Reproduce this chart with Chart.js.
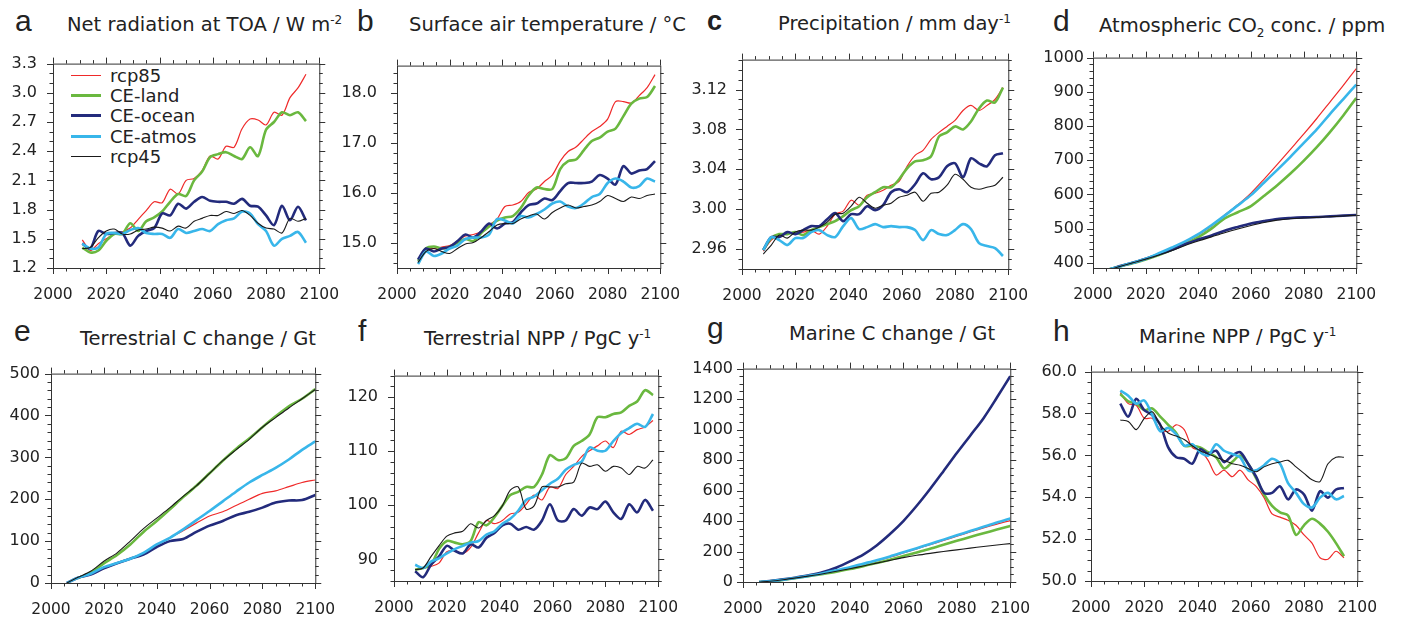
<!DOCTYPE html>
<html>
<head>
<meta charset="utf-8">
<script src="https://cdn.jsdelivr.net/npm/chart.js@4.4.0/dist/chart.umd.min.js"></script>
<style>
    body { margin: 0; background: #fff; width: 1401px; height: 621px; position: relative; overflow: hidden; color: #222; }
    .box { position: absolute; }
    .letter { position: absolute; font-family: "Liberation Sans", Arial, sans-serif; font-size: 30px; line-height: 1; }
    .title { position: absolute; font-family: "DejaVu Sans", sans-serif; font-size: 19.5px; line-height: 1; white-space: nowrap; }
    .title sup, .title sub { font-size: 12px; line-height: 0; }
    .legend { position: absolute; left: 71px; top: 65px; font-family: "DejaVu Sans", sans-serif; font-size: 18px; }
    .legend div { display: flex; align-items: center; height: 20.4px; }
    .legend span.ln { display: inline-block; width: 30px; margin-right: 9px; }
</style>
</head>
<body>

<div class="letter" style="left:15px;top:6px">a</div>
<div class="title" style="left:67px;top:15.3px">Net radiation at TOA / W m<sup>-2</sup></div>
<div class="letter" style="left:357px;top:6px">b</div>
<div class="title" style="left:409px;top:15.3px">Surface air temperature / °C</div>
<div class="letter" style="left:707px;top:8px;font-size:27px;font-weight:bold">c</div>
<div class="title" style="left:778px;top:14.1px">Precipitation / mm day<sup>-1</sup></div>
<div class="letter" style="left:1053px;top:6px">d</div>
<div class="title" style="left:1099px;top:16.3px">Atmospheric CO<sub>2</sub> conc. / ppm</div>
<div class="letter" style="left:14px;top:316px">e</div>
<div class="title" style="left:80px;top:328.6px">Terrestrial C change / Gt</div>
<div class="letter" style="left:358px;top:316px">f</div>
<div class="title" style="left:424px;top:328.6px">Terrestrial NPP / PgC y<sup>-1</sup></div>
<div class="letter" style="left:707px;top:312.6px">g</div>
<div class="title" style="left:789px;top:324.3px">Marine C change / Gt</div>
<div class="letter" style="left:1053px;top:316px">h</div>
<div class="title" style="left:1139px;top:326.6px">Marine NPP / PgC y<sup>-1</sup></div>

<div class="legend" id="legend"></div>

<script>
// series names and styles (same order in every panel)
const seriesNames = ['rcp85', 'CE-land', 'CE-ocean', 'CE-atmos', 'rcp45'];
const seriesColors = ['#ef2a2a', '#6ab83f', '#232b7c', '#38b6ea', '#1a1a1a'];
const seriesWidths = [1.2, 2.6, 2.6, 2.6, 1.1];

const xTicks = [2000, 2020, 2040, 2060, 2080, 2100];

// a: net radiation at TOA
const yearsA = [2011, 2014, 2017, 2020, 2023, 2026, 2029, 2032, 2035, 2038, 2041, 2044, 2047, 2050, 2053,
    2056, 2059, 2062, 2065, 2068, 2071, 2074, 2077, 2080, 2083, 2086, 2089, 2092, 2095];
const rcp85A = [1.49, 1.38, 1.45, 1.50, 1.55, 1.57, 1.61, 1.70, 1.79, 1.88, 1.87, 2.01, 1.96, 2.10, 2.12,
    2.20, 2.35, 2.32, 2.45, 2.44, 2.63, 2.73, 2.72, 2.67, 2.80, 2.77, 2.95, 3.05, 3.19];
const landA = [1.41, 1.36, 1.38, 1.48, 1.55, 1.55, 1.66, 1.58, 1.68, 1.72, 1.78, 1.88, 1.96, 1.94, 2.10,
    2.19, 2.34, 2.37, 2.39, 2.35, 2.32, 2.44, 2.35, 2.62, 2.70, 2.80, 2.77, 2.80, 2.71];
const oceanA = [1.45, 1.40, 1.58, 1.55, 1.56, 1.56, 1.43, 1.53, 1.58, 1.61, 1.76, 1.74, 1.86, 1.81, 1.88,
    1.93, 1.89, 1.88, 1.88, 1.86, 1.91, 1.84, 1.83, 1.74, 1.64, 1.84, 1.69, 1.83, 1.69];
const atmosA = [1.45, 1.40, 1.41, 1.55, 1.56, 1.55, 1.59, 1.61, 1.56, 1.55, 1.55, 1.51, 1.60, 1.56, 1.58,
    1.60, 1.58, 1.65, 1.69, 1.71, 1.78, 1.76, 1.65, 1.58, 1.43, 1.50, 1.53, 1.57, 1.46];
const rcp45A = [1.40, 1.41, 1.51, 1.58, 1.60, 1.55, 1.55, 1.59, 1.60, 1.62, 1.61, 1.58, 1.63, 1.61, 1.68,
    1.71, 1.74, 1.74, 1.78, 1.76, 1.79, 1.74, 1.66, 1.61, 1.60, 1.56, 1.71, 1.68, 1.71];
const yTicksA = [1.2, 1.5, 1.8, 2.1, 2.4, 2.7, 3.0, 3.3];

// b: surface air temperature
const yearsB = [2008, 2011, 2014, 2017, 2020, 2023, 2026, 2029, 2032, 2035, 2038, 2041, 2044, 2047, 2050, 2053,
    2056, 2059, 2062, 2065, 2068, 2071, 2074, 2077, 2080, 2083, 2086, 2089, 2092, 2095, 2098];
const rcp85B = [14.61, 14.89, 14.89, 14.92, 14.95, 15.04, 15.14, 15.17, 15.23, 15.36, 15.48, 15.73, 15.76, 15.83, 16.01, 16.08,
    16.23, 16.36, 16.64, 16.83, 16.92, 17.08, 17.23, 17.33, 17.48, 17.83, 17.83, 17.80, 17.95, 18.11, 18.37];
const landB = [14.64, 14.89, 14.93, 14.89, 14.92, 15.01, 15.08, 15.04, 15.20, 15.33, 15.45, 15.51, 15.54, 15.70, 15.95, 16.11,
    16.08, 16.08, 16.48, 16.64, 16.67, 16.86, 17.04, 17.11, 17.23, 17.29, 17.54, 17.79, 17.89, 17.92, 18.14];
const oceanB = [14.67, 14.89, 14.83, 14.89, 14.92, 15.04, 15.17, 15.11, 15.23, 15.39, 15.29, 15.39, 15.42, 15.61, 15.76, 15.79,
    15.89, 15.86, 16.04, 16.20, 16.20, 16.20, 16.23, 16.36, 16.29, 16.17, 16.54, 16.39, 16.45, 16.48, 16.64];
const atmosB = [14.58, 14.83, 14.74, 14.79, 14.89, 14.95, 15.08, 15.11, 15.11, 15.17, 15.48, 15.45, 15.39, 15.54, 15.51, 15.58,
    15.67, 15.79, 15.83, 15.73, 15.70, 15.79, 15.92, 15.98, 16.20, 16.29, 16.23, 16.11, 16.14, 16.29, 16.23];
const rcp45B = [14.61, 14.83, 14.89, 14.83, 14.79, 14.89, 14.98, 15.01, 15.11, 15.23, 15.36, 15.39, 15.39, 15.48, 15.54, 15.58,
    15.48, 15.61, 15.70, 15.76, 15.70, 15.73, 15.76, 15.83, 15.95, 15.89, 15.83, 15.92, 15.89, 15.95, 15.98];
const yTicksB = [15.0, 16.0, 17.0, 18.0];

// c: precipitation
const yearsC = yearsB;
const rcp85C = [2.958, 2.969, 2.974, 2.975, 2.977, 2.977, 2.979, 2.975, 2.983, 2.995, 2.998, 3.009, 3.004, 3.014, 3.016, 3.019,
    3.024, 3.028, 3.043, 3.054, 3.059, 3.070, 3.077, 3.083, 3.089, 3.099, 3.104, 3.099, 3.104, 3.110, 3.122];
const landC = [2.959, 2.971, 2.975, 2.975, 2.977, 2.974, 2.979, 2.982, 2.985, 2.988, 2.993, 2.999, 3.003, 3.012, 3.017, 3.022,
    3.022, 3.030, 3.041, 3.048, 3.049, 3.053, 3.073, 3.077, 3.083, 3.080, 3.088, 3.101, 3.109, 3.107, 3.122];
const oceanC = [2.959, 2.972, 2.972, 2.977, 2.975, 2.979, 2.983, 2.983, 2.990, 2.996, 2.988, 2.995, 2.995, 3.003, 2.999, 3.004,
    3.017, 3.020, 3.017, 3.025, 3.036, 3.030, 3.032, 3.043, 3.046, 3.032, 3.051, 3.046, 3.043, 3.054, 3.056];
const atmosC = [2.959, 2.972, 2.969, 2.964, 2.971, 2.971, 2.977, 2.979, 2.974, 2.972, 2.983, 2.991, 2.980, 2.982, 2.985, 2.982,
    2.983, 2.982, 2.982, 2.979, 2.969, 2.979, 2.975, 2.974, 2.979, 2.985, 2.980, 2.966, 2.963, 2.961, 2.953];
const rcp45C = [2.955, 2.964, 2.974, 2.971, 2.977, 2.979, 2.979, 2.982, 2.987, 2.995, 2.996, 3.003, 3.012, 3.006, 3.001, 3.004,
    3.006, 3.012, 3.014, 3.017, 3.008, 3.016, 3.017, 3.024, 3.035, 3.030, 3.022, 3.020, 3.022, 3.024, 3.032];
const yTicksC = [2.96, 3.00, 3.04, 3.08, 3.12];

// d: atmospheric CO2
const yearsD = [2006, 2010, 2015, 2020, 2025, 2030, 2035, 2040, 2045, 2050, 2055, 2060, 2065, 2070, 2075,
    2080, 2085, 2090, 2095, 2100];
const rcp85D = [381, 389, 400, 412, 427, 442, 460, 482, 508, 540, 570, 604, 645, 688, 732, 776, 822, 870, 918, 968];
const landD = [381, 389, 399, 410, 423, 438, 455, 475, 500, 530, 548, 566, 596, 627, 661, 698, 738, 782, 830, 882];
const oceanD = [380, 390, 400, 412, 425, 438, 455, 468, 480, 494, 505, 515, 522, 528, 531, 533, 534, 536, 538, 540];
const atmosD = [381, 389, 400, 412, 428, 445, 463, 484, 510, 538, 568, 598, 635, 672, 710, 750, 790, 835, 878, 921];
const rcp45D = [380, 389, 400, 411, 423, 436, 451, 464, 476, 488, 499, 509, 518, 525, 529, 531, 533, 535, 537, 539];
const yTicksD = [400, 500, 600, 700, 800, 900, 1000];

// e: terrestrial C change
const yearsE = yearsD;
const rcp85E = [0, 12, 22, 35, 47, 58, 72, 90, 108, 125, 143, 160, 170, 185, 200, 214, 220, 230, 240, 246];
const landE = [null, 11, 25, 47, 67, 92, 122, 148, 176, 205, 232, 262, 292, 320, 345, 372, 398, 422, 440, 463];
const oceanE = [0, 12, 20, 35, 47, 58, 68, 86, 100, 105, 122, 137, 148, 162, 170, 180, 192, 197, 198, 210];
const atmosE = [0, 12, 22, 38, 48, 58, 72, 92, 108, 128, 150, 172, 195, 218, 240, 258, 275, 295, 318, 338];
const rcp45E = [0, 13, 28, 52, 72, 100, 130, 155, 180, 207, 232, 262, 292, 318, 343, 372, 395, 418, 440, 462];
const yTicksE = [0, 100, 200, 300, 400, 500];

// f: terrestrial NPP
const yearsF = yearsB;
const rcp85F = [88.1, 88.4, 88.7, 89.3, 91.4, 91.6, 91.1, 92.2, 94.9, 97.2, 96.6, 97.2, 98.4, 98.7, 100.2, 101.9,
    101.0, 103.4, 103.1, 105.7, 107.2, 109.0, 110.1, 111.0, 111.9, 110.7, 113.7, 113.1, 114.0, 114.5, 115.7];
const landF = [88.1, 88.4, 89.0, 91.9, 93.4, 93.1, 92.8, 93.4, 96.9, 96.3, 97.8, 99.9, 101.9, 102.5, 103.4, 103.4,
    105.7, 109.3, 108.4, 108.7, 111.0, 111.9, 113.1, 116.3, 116.3, 116.9, 117.2, 118.4, 119.2, 121.3, 120.4];
const oceanF = [87.8, 86.7, 89.0, 90.5, 92.5, 91.6, 91.1, 92.8, 92.2, 94.0, 94.9, 96.3, 96.6, 95.5, 96.0, 95.5,
    97.2, 100.2, 97.2, 97.2, 99.3, 98.1, 99.6, 99.3, 100.7, 98.7, 97.5, 100.2, 98.7, 101.0, 99.0];
const atmosF = [89.0, 88.4, 89.6, 90.2, 91.1, 91.9, 92.5, 93.1, 93.4, 94.6, 95.2, 96.6, 97.5, 99.0, 101.0, 101.6,
    102.8, 104.0, 104.9, 106.6, 107.5, 108.1, 110.7, 110.1, 110.1, 111.9, 113.4, 114.3, 115.1, 114.5, 116.9];
const rcp45F = [88.1, 88.4, 90.5, 92.5, 94.3, 94.9, 95.2, 96.6, 95.8, 97.2, 98.1, 99.9, 102.8, 103.4, 99.3, 99.9,
    103.4, 103.4, 103.4, 104.0, 104.3, 107.8, 107.2, 107.5, 106.3, 107.2, 106.9, 105.7, 107.2, 106.9, 108.4];
const yTicksF = [90, 100, 110, 120];

// g: marine C change
const yearsG = yearsD;
const rcp85G = [0, 5, 15, 28, 42, 57, 75, 95, 117, 140, 163, 190, 217, 245, 272, 300, 328, 355, 380, 403];
const landG = [0, 5, 14, 26, 39, 53, 68, 85, 104, 124, 146, 170, 194, 218, 244, 270, 295, 320, 344, 368];
const oceanG = [0, 6, 17, 30, 45, 65, 95, 135, 180, 240, 315, 400, 500, 610, 727, 846, 960, 1075, 1210, 1350];
const atmosG = [0, 5, 15, 28, 42, 58, 77, 97, 120, 143, 168, 195, 222, 250, 278, 306, 334, 362, 390, 416];
const rcp45G = [0, 5, 15, 27, 40, 54, 70, 87, 105, 124, 142, 160, 175, 188, 200, 211, 222, 233, 243, 252];
const yTicksG = [0, 200, 400, 600, 800, 1000, 1200, 1400];

// h: marine NPP
const yearsH = yearsA;
const rcp85H = [59.00, 58.47, 58.39, 57.77, 57.77, 57.23, 57.15, 57.46, 57.23, 56.38, 56.22, 55.76, 55.06, 55.29, 54.98,
    55.29, 54.83, 54.52, 53.98, 53.20, 53.05, 52.90, 52.66, 52.20, 51.81, 51.11, 51.04, 51.42, 51.11];
const landH = [58.93, 58.58, 58.47, 58.16, 58.24, 57.85, 57.46, 57.07, 56.46, 56.46, 56.38, 56.15, 55.91, 55.37, 55.68,
    55.99, 55.60, 54.91, 54.13, 53.59, 53.28, 53.13, 52.20, 52.66, 52.97, 52.74, 52.35, 51.81, 51.19];
const oceanH = [58.47, 57.85, 58.70, 58.16, 57.93, 57.46, 56.38, 55.91, 55.84, 55.60, 56.30, 56.07, 56.22, 55.68, 55.99,
    56.15, 55.60, 54.98, 54.21, 54.21, 54.52, 53.90, 54.37, 54.13, 53.36, 54.29, 53.98, 54.37, 54.44];
const atmosH = [59.09, 58.85, 58.47, 58.62, 57.93, 57.15, 57.31, 57.00, 56.46, 56.53, 56.15, 55.99, 56.53, 56.22, 56.07,
    55.91, 55.29, 55.29, 55.53, 55.84, 55.60, 54.67, 54.21, 53.67, 53.51, 53.98, 54.21, 53.90, 54.06];
const rcp45H = [57.69, 57.62, 57.23, 57.77, 58.08, 57.46, 57.07, 56.92, 56.76, 56.46, 56.22, 56.07, 55.91, 55.76, 55.60,
    55.53, 55.37, 55.22, 55.45, 55.60, 55.68, 55.76, 55.45, 55.14, 54.83, 54.75, 55.60, 55.91, 55.91];
const yTicksH = [50.0, 52.0, 54.0, 56.0, 58.0, 60.0];

// plot boxes in page pixels: [left, top, right, bottom]
const panels = [
    { box: [53, 55, 322, 268], years: yearsA, series: [rcp85A, landA, oceanA, atmosA, rcp45A], y: [1.2, 3.3], ticks: yTicksA, dec: 1, minor: 0.1, gap: 16 },
    { box: [397, 53, 663, 268], years: yearsB, series: [rcp85B, landB, oceanB, atmosB, rcp45B], y: [14.5, 18.55], ticks: yTicksB, dec: 1, minor: 0.2, gap: 20 },
    { box: [742, 52, 1011, 269], years: yearsC, series: [rcp85C, landC, oceanC, atmosC, rcp45C], y: [2.94, 3.15], ticks: yTicksC, dec: 2, minor: 0.01, gap: 15 },
    { box: [1093, 56, 1359, 268], years: yearsD, series: [rcp85D, landD, oceanD, atmosD, rcp45D], y: [385, 1000], ticks: yTicksD, dec: 0, minor: 20, gap: 9 },
    { box: [51, 370, 318, 583], years: yearsE, series: [rcp85E, landE, oceanE, atmosE, rcp45E], y: [0, 500], ticks: yTicksE, dec: 0, minor: 20, gap: 11 },
    { box: [394, 367, 661, 581], years: yearsF, series: [rcp85F, landF, oceanF, atmosF, rcp45F], y: [86, 124], ticks: yTicksF, dec: 0, minor: 2, gap: 16 },
    { box: [743, 366, 1013, 582], years: yearsG, series: [rcp85G, landG, oceanG, atmosG, rcp45G], y: [0, 1400], ticks: yTicksG, dec: 0, minor: 50, gap: 10 },
    { box: [1091, 365, 1360, 581], years: yearsH, series: [rcp85H, landH, oceanH, atmosH, rcp45H], y: [50, 60], ticks: yTicksH, dec: 1, minor: 0.5, gap: 14 }
];

// frame + outward major/minor ticks on all four sides
const frameTicks = {
    id: 'frameTicks',
    afterDraw(chart, args, opts) {
        const { ctx, chartArea: a, scales: { x, y } } = chart;
        const steps = (scale, step) => {
            const out = [];
            const n0 = Math.ceil(scale.min / step - 1e-6), n1 = Math.floor(scale.max / step + 1e-6);
            for (let i = n0; i <= n1; i++) out.push(i * step);
            return out;
        };
        const isMajor = (v, list) => list.some(m => Math.abs(m - v) < 1e-6);
        ctx.save();
        ctx.strokeStyle = '#333';
        ctx.lineWidth = 1;
        ctx.strokeRect(a.left + 0.5, a.top + 0.5, a.right - a.left, a.bottom - a.top);
        ctx.beginPath();
        steps(x, 5).forEach(v => {
            const px = Math.round(x.getPixelForValue(v)) + 0.5;
            const len = isMajor(v, xTicks) ? 6 : 3.5;
            ctx.moveTo(px, a.bottom); ctx.lineTo(px, a.bottom + len);
            ctx.moveTo(px, a.top); ctx.lineTo(px, a.top - len);
        });
        steps(y, opts.minor).forEach(v => {
            const py = Math.round(y.getPixelForValue(v)) + 0.5;
            const len = isMajor(v, opts.major) ? 6 : 3.5;
            ctx.moveTo(a.left, py); ctx.lineTo(a.left - len, py);
            ctx.moveTo(a.right, py); ctx.lineTo(a.right + len, py);
        });
        ctx.stroke();
        ctx.restore();
    }
};

function makePanel(p) {
    const [l, t, r, b] = p.box;
    const wrap = document.createElement('div');
    wrap.className = 'box';
    wrap.style.left = (l - 60) + 'px';
    wrap.style.top = (t - 12) + 'px';
    wrap.style.width = (r - l + 90) + 'px';
    wrap.style.height = (b - t + 57) + 'px';
    const canvas = document.createElement('canvas');
    wrap.appendChild(canvas);
    document.body.appendChild(wrap);

    new Chart(canvas, {
        type: 'line',
        data: {
            datasets: seriesNames.map((name, i) => ({
                label: name,
                data: p.years.map((yr, j) => ({ x: yr, y: p.series[i][j] })),
                borderColor: seriesColors[i],
                borderWidth: seriesWidths[i],
                pointRadius: 0,
                tension: 0.3,
                fill: false,
                order: 4 - i
            }))
        },
        options: {
            responsive: true,
            maintainAspectRatio: false,
            animation: false,
            events: [],
            layout: { padding: { left: 0, top: 12, right: 30, bottom: 0 } },
            plugins: {
                legend: { display: false },
                tooltip: { enabled: false },
                frameTicks: { minor: p.minor, major: p.ticks }
            },
            scales: {
                x: {
                    type: 'linear',
                    min: 2000,
                    max: 2100,
                    afterBuildTicks: s => { s.ticks = xTicks.map(v => ({ value: v })); },
                    afterFit: s => { s.height = 45; },
                    grid: { display: false, drawTicks: true, tickLength: 5 },
                    border: { display: false },
                    ticks: {
                        autoSkip: false,
                        maxRotation: 0,
                        padding: 13,
                        color: '#222',
                        font: { family: '"DejaVu Sans", sans-serif', size: 15.5 },
                        callback: v => String(v)
                    }
                },
                y: {
                    type: 'linear',
                    min: p.y[0],
                    max: p.y[1],
                    afterBuildTicks: s => { s.ticks = p.ticks.map(v => ({ value: v })); },
                    afterFit: s => { s.width = 60; },
                    grid: { display: false, drawTicks: true, tickLength: 5 },
                    border: { display: false },
                    ticks: {
                        autoSkip: false,
                        padding: p.gap - 5,
                        color: '#222',
                        font: { family: '"DejaVu Sans", sans-serif', size: 16 },
                        callback: v => Number(v).toFixed(p.dec)
                    }
                }
            }
        },
        plugins: [frameTicks]
    });
}

panels.forEach(makePanel);

// legend inside panel a
const legend = document.getElementById('legend');
seriesNames.forEach((name, i) => {
    const row = document.createElement('div');
    row.innerHTML = `<span class="ln" style="border-top:${seriesWidths[i] > 2 ? 3 : 1}px solid ${seriesColors[i]}"></span>${name}`;
    legend.appendChild(row);
});
</script>
</body>
</html>
